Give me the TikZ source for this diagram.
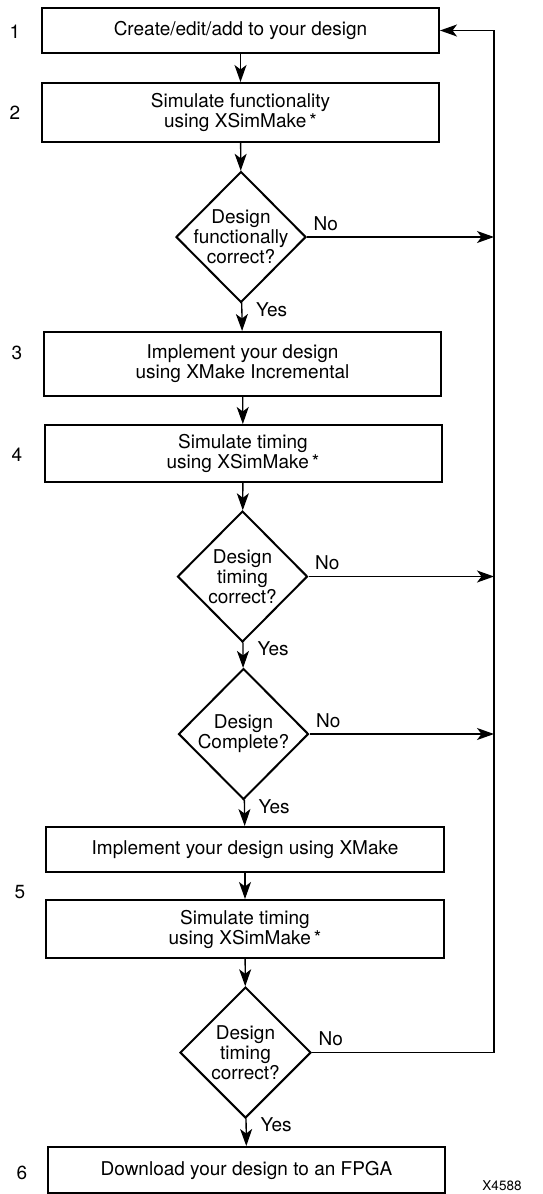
\documentclass[tikz,border=0pt]{standalone}
\usepackage{fontspec}
\setmainfont{TeX Gyre Heros}
\usetikzlibrary{shapes.geometric,arrows.meta,positioning}
\tikzset{
  stepbox/.style={draw, line width=2pt, minimum width=397pt, inner sep=0pt, align=center},
  decision/.style={draw, diamond, line width=2pt, minimum width=130pt, minimum height=131pt, inner sep=0pt},
  qtext/.style={align=center, inner sep=0pt},
  flow/.style={line width=1.3pt, -{Stealth[length=17pt,width=12pt,inset=4.5pt]}},
  lbl/.style={inner sep=0pt, anchor=west},
  stepnum/.style={inner sep=0pt},
}
\begin{document}
\begin{tikzpicture}[x=1pt,y=-1pt,font=\fontsize{19}{20}\selectfont]
\useasboundingbox (0,0) rectangle (542,1194);
\pgfmathsetmacro{\r}{494}
\coordinate (ret) at (\r,0);
% boxes and decisions
\node[stepbox, minimum height=45pt] (create) at (240.5,30.5) {Create/edit/add to your design};
\node[stepbox, minimum height=59pt] (simfunc) at (240.5,112.5) {Simulate functionality\\using XSimMake\,*};
\node[decision] (qfunc) at (241,237) {};
\node[qtext] (qfunctxt) at (qfunc) {Design\\functionally\\correct?};
\node[stepbox, minimum height=64pt] (impinc) at (242.5,364) {Implement your design\\using XMake Incremental};
\node[stepbox, minimum height=57pt] (simtime) at (243,453.5) {Simulate timing\\using XSimMake\,*};
\node[decision] (qtime) at (242.5,576.5) {};
\node[qtext] (qtimetxt) at (qtime) {Design\\timing\\correct?};
\node[decision] (qdone) at (243.5,734) {};
\node[qtext] (qdonetxt) at (qdone) {Design\\Complete?};
\node[stepbox, minimum height=45pt, minimum width=398pt] (impfull) at (245,849.5) {Implement your design using XMake};
\node[stepbox, minimum height=58pt, minimum width=398pt] (simfull) at (245,929) {Simulate timing\\using XSimMake\,*};
\node[decision, minimum width=131pt] (qfull) at (245.5,1052.5) {};
\node[qtext] (qfulltxt) at (qfull) {Design\\timing\\correct?};
\node[stepbox, minimum height=46pt] (download) at (246.5,1170) {Download your design to an FPGA};
% step numbers
\node[stepnum] (n1) at (15,32) {1};
\node[stepnum] (n2) at (15,113) {2};
\node[stepnum] (n3) at (17,353) {3};
\node[stepnum] (n4) at (17,455) {4};
\node[stepnum] (n5) at (20,892) {5};
\node[stepnum] (n6) at (22,1173) {6};
\node[inner sep=0pt, font=\fontsize{13.5}{13.5}\selectfont] (fig) at (502,1186) {X4588};
% flow down
\draw[flow] (create) -- (simfunc);
\draw[flow] (simfunc) -- (qfunc);
\draw[flow] (qfunc) -- (impinc);
\draw[flow] (impinc) -- (simtime);
\draw[flow] (simtime) -- (qtime);
\draw[flow] (qtime) -- (qdone);
\draw[flow] (qdone) -- (impfull);
\draw[flow] (impfull) -- (simfull);
\draw[flow] (simfull) -- (qfull);
\draw[flow] (qfull) -- (download);
% yes labels
\node[lbl] (y1) at ([xshift=15pt,yshift=-6pt]qfunc.south) {Yes};
\node[lbl] (y2) at ([xshift=15pt,yshift=-6pt]qtime.south) {Yes};
\node[lbl] (y3) at ([xshift=15pt,yshift=-6pt]qdone.south) {Yes};
\node[lbl] (y4) at ([xshift=15pt,yshift=-6pt]qfull.south) {Yes};
% no branches
\draw[flow] (qfunc.east) -- (qfunc.east -| ret) node[lbl, pos=0, xshift=6pt, yshift=13.5pt] (no1) {No};
\draw[flow] (qtime.east) -- (qtime.east -| ret) node[lbl, pos=0, xshift=6pt, yshift=13.5pt] (no2) {No};
\draw[flow] (qdone.east) -- (qdone.east -| ret) node[lbl, pos=0, xshift=6pt, yshift=13.5pt] (no3) {No};
\draw[flow] (qfull.east) -- (qfull.east -| ret) node[lbl, pos=0, xshift=6pt, yshift=13.5pt] (no4) {No}
  |- (create.east);
\end{tikzpicture}
\end{document}
